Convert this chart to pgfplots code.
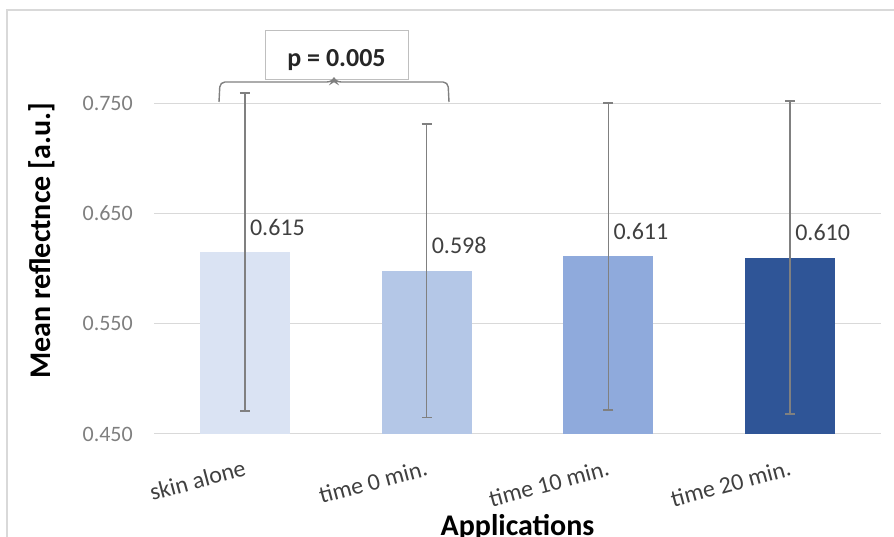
\documentclass[border=0pt]{standalone}
\usepackage{fontspec}
\setmainfont{Carlito}
\usepackage{pgfplots}
\pgfplotsset{compat=1.18}
\definecolor{c1}{HTML}{DAE3F3}
\definecolor{c2}{HTML}{B4C7E7}
\definecolor{c3}{HTML}{8FAADC}
\definecolor{c4}{HTML}{2F5597}
\definecolor{gridc}{HTML}{D9D9D9}
\definecolor{errc}{HTML}{808080}
\definecolor{tickc}{HTML}{7F7F7F}
\definecolor{valc}{HTML}{404040}
\definecolor{boxc}{HTML}{BFBFBF}
\pgfplotsset{
  mybar/.style={ybar, bar width=90pt, bar shift=0pt, draw=none, fill=#1,
    nodes near coords,
    nodes near coords style={font=\fontsize{24}{28}\selectfont, text=valc, anchor=base west, inner sep=0pt, xshift=5pt, yshift=17pt, /pgf/number format/.cd, fixed, fixed zerofill, precision=3, assume math mode=true}},
}
\begin{document}
\begin{tikzpicture}[x=1pt,y=1pt]
\draw[gridc, line width=1.3pt] (7,-10) -- (7,527) -- (910,527);
\begin{axis}[
  at={(154pt,103pt)}, anchor=south west,
  scale only axis, width=727pt, height=386pt,
  xmin=-0.5, xmax=3.5, ymin=0.45, ymax=0.80,
  clip=false,
  axis line style={draw=none},
  ymajorgrids, grid style={gridc, line width=1pt},
  major tick length=0pt,
  ytick={0.45,0.55,0.65,0.75},
  yticklabel={\pgfmathprintnumber[fixed,fixed zerofill,precision=3,assume math mode=true]{\tick}},
  yticklabel style={font=\fontsize{22}{26}\selectfont, text=tickc, inner sep=0pt, anchor=east, xshift=-21pt},
  xtick={0,1,2,3},
  xticklabels={skin alone, time 0 min., time 10 min., time 20 min.},
  xticklabel style={font=\fontsize{24}{28}\selectfont, text=valc, inner sep=0pt, yshift=-25pt, xshift=-2pt, rotate=15, anchor=north east},
  /pgf/number format/assume math mode=true,
  xlabel={Applications},
  xlabel style={at={(axis description cs:0.5,-0.2642)}, anchor=base, font=\bfseries\fontsize{30}{34}\selectfont, text=black},
  ylabel={Mean reflectnce [a.u.]},
  ylabel style={at={(axis description cs:-0.1417,0.5)}, anchor=base, font=\bfseries\fontsize{30}{34}\selectfont, text=black},
]
\addplot[mybar=c1] coordinates {(0,0.615)};
\addplot[mybar=c2] coordinates {(1,0.598)};
\addplot[mybar=c3] coordinates {(2,0.611)};
\addplot[mybar=c4] coordinates {(3,0.610)};
\addplot[draw=none, mark=none, forget plot,
  error bars/.cd, y dir=both, y explicit,
  error bar style={draw=errc, line width=1.6pt, solid},
  error mark=-,
  error mark options={draw=errc, line width=1.6pt, mark size=5pt, solid, rotate=90}]
  coordinates {
  (0,0.615) +- (0,0.144)
  (1,0.598) +- (0,0.133)
  (2,0.611) +- (0,0.139)
  (3,0.610) +- (0,0.142)
  };
\end{axis}
\draw[boxc, fill=white, line width=1pt] (265,457) rectangle (408,506);
\draw[errc, line width=1.4pt, rounded corners=5pt] (219,435) -- (220,455) -- (332,455) -- (334,458) -- (336,455) -- (448,455) -- (449,435);
\node[font=\bfseries\fontsize{26}{30}\selectfont, text=black!85, anchor=base, inner sep=0pt] at (336.5,470) {p = 0.005};
\pgfresetboundingbox
\useasboundingbox (0,0) rectangle (894,537);
\end{tikzpicture}
\end{document}
